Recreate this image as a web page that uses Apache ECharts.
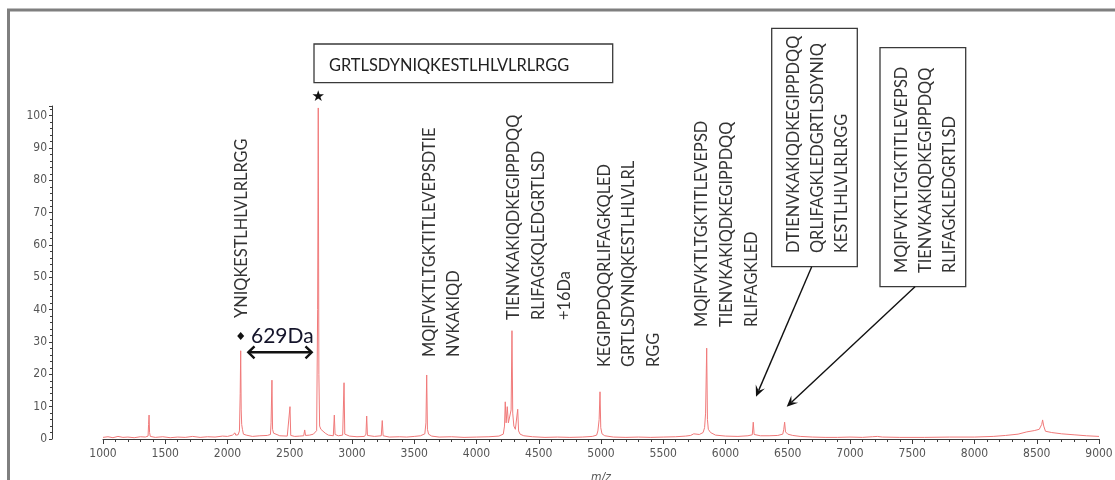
<!DOCTYPE html>
<html>
<head>
<meta charset="utf-8">
<title>MALDI-TOF spectrum</title>
<script src="https://cdn.jsdelivr.net/npm/echarts/dist/echarts.min.js"></script>
<style>
  html, body { margin: 0; padding: 0; background: #ffffff; }
  #chart { width: 1115px; height: 480px; }
</style>
</head>
<body>
<div id="chart"></div>
<script>
// ---- Spectrum: [m/z, relative intensity %] ----
const spectrum = [
  [1000,0.5],[1040,0.7],[1080,0.4],[1120,0.8],[1160,0.5],[1200,0.6],[1250,0.4],[1300,0.7],
  [1340,0.6],[1362,0.9],[1366,4.5],[1370,7.4],[1374,2.0],[1380,0.8],[1420,0.5],[1480,0.7],
  [1540,0.4],[1600,0.6],[1660,0.5],[1720,0.8],[1780,0.5],[1840,0.7],[1900,0.6],[1960,0.9],
  [2000,0.8],[2040,1.2],[2055,1.5],[2060,1.9],[2066,1.2],[2085,1.3],[2096,2.5],[2102,14],
  [2106,27.3],[2110,9],[2114,4.5],[2120,3.0],[2128,1.5],[2140,2.1],[2150,1.2],[2200,0.8],
  [2260,1.0],[2320,1.1],[2345,1.4],[2350,5],[2357,18.2],[2362,3.0],[2370,1.8],[2385,1.4],
  [2420,1.0],[2480,0.9],[2495,1.0],[2502,10.0],[2508,1.1],[2540,0.8],[2580,0.9],[2612,1.0],
  [2620,2.8],[2627,1.1],[2660,1.2],[2690,1.5],[2705,2.0],[2716,2.6],[2724,40],[2729,102.4],
  [2734,20],[2740,4.0],[2750,3.0],[2765,2.4],[2785,1.8],[2810,1.2],[2850,1.0],[2858,7.4],
  [2864,1.4],[2890,1.0],[2925,1.2],[2936,17.4],[2942,1.5],[2980,0.9],[3040,0.7],[3100,0.8],
  [3112,1.5],[3118,7.1],[3124,1.1],[3180,0.8],[3235,1.0],[3243,5.7],[3250,1.0],[3300,0.6],
  [3380,0.7],[3440,0.6],[3500,0.8],[3550,1.0],[3585,1.6],[3594,5],[3600,19.8],[3606,3.0],
  [3615,1.5],[3640,0.9],[3700,0.6],[3800,0.7],[3900,0.5],[4000,0.6],[4100,0.7],[4180,0.9],
  [4215,1.5],[4225,4],[4231,11.5],[4238,5],[4247,10.0],[4256,5.0],[4268,4.5],[4278,9],
  [4285,33.5],[4291,8],[4300,4],[4312,3],[4331,9.2],[4338,2.5],[4350,1.5],[4380,1.0],
  [4450,0.7],[4550,0.5],[4650,0.6],[4750,0.5],[4850,0.6],[4930,0.8],[4965,1.2],[4975,2.5],
  [4985,6],[4992,14.6],[4998,3.5],[5008,1.6],[5030,1.0],[5100,0.6],[5200,0.5],[5300,0.6],
  [5400,0.5],[5500,0.6],[5600,0.7],[5680,0.9],[5720,1.1],[5745,1.6],[5755,1.2],[5790,1.4],
  [5820,2.0],[5832,3.5],[5840,8],[5849,28.1],[5855,6],[5862,3.0],[5880,2.0],[5920,1.2],
  [6000,0.9],[6100,0.8],[6180,1.0],[6215,1.3],[6223,5.2],[6230,1.4],[6280,1.0],[6350,1.0],
  [6420,1.1],[6460,1.5],[6468,3],[6475,5.2],[6482,2.2],[6500,1.5],[6540,1.1],[6600,0.8],
  [6700,0.6],[6800,0.5],[6900,0.5],[7000,0.6],[7100,0.5],[7180,0.7],[7220,0.8],[7260,0.6],
  [7400,0.5],[7600,0.5],[7800,0.6],[8000,0.6],[8150,0.8],[8250,1.1],[8350,1.5],[8420,2.2],
  [8480,2.6],[8520,3.0],[8540,4.5],[8547,5.9],[8556,4.0],[8570,2.4],[8620,2.0],[8700,1.6],
  [8800,1.3],[8900,1.0],[9000,0.8]
];

// ---- Axis ranges ----
const mzRange = [1000, 9000];
const mzTickStep = 500;
const intensityRange = [0, 103];
const intensityTickStep = 10;

// ---- Peptide assignments ----
const mainPeptide = 'GRTLSDYNIQKESTLHLVLRLRGG';
const massShiftLabel = '629Da';
const label2106 = ['YNIQKESTLHLVLRLRGG'];
const label3600 = ['MQIFVKTLTGKTITLEVEPSDTIE', 'NVKAKIQD'];
const label4285 = ['TIENVKAKIQDKEGIPPDQQ', 'RLIFAGKQLEDGRTLSD', '+16Da'];
const label4992 = ['KEGIPPDQQRLIFAGKQLED', 'GRTLSDYNIQKESTLHLVLRL', 'RGG'];
const label5849 = ['MQIFVKTLTGKTITLEVEPSD', 'TIENVKAKIQDKEGIPPDQQ', 'RLIFAGKLED'];
const label6223 = ['DTIENVKAKIQDKEGIPPDQQ', 'QRLIFAGKLEDGRTLSDYNIQ', 'KESTLHLVLRLRGG'];
const label6475 = ['MQIFVKTLTGKTITLEVEPSD', 'TIENVKAKIQDKEGIPPDQQ', 'RLIFAGKLEDGRTLSD'];

// ---- Layout of the annotation layer (pixels) ----
const TEXT_FONT = 'Lato, "Open Sans", sans-serif';
const TEXT_SIZE = 16.4;
const AXIS_FONT = '"Liberation Sans Narrow", "DejaVu Sans Condensed", sans-serif';
const verticalGroups = [
  { lines: label2106, x: 241.7, dx: 0,    base: 318 },
  { lines: label3600, x: 430,   dx: 23.3, base: 357 },
  { lines: label4285, x: 513.3, dx: 25.8, base: 320 },
  { lines: label4992, x: 605,   dx: 24.2, base: 367 },
  { lines: label5849, x: 701.7, dx: 25,   base: 327 },
  { lines: label6223, x: 793.3, dx: 24.2, base: 253 },
  { lines: label6475, x: 901.7, dx: 24.2, base: 273 }
];
const boxes = [
  { x: 314,   y: 44,   w: 298.7, h: 38.7 },
  { x: 771.7, y: 28.3, w: 85.6,  h: 238.4 },
  { x: 880,   y: 47.7, w: 85.7,  h: 239 }
];
const pointerArrows = [
  { from: [811.7, 266.7], to: [756, 396.7] },
  { from: [915, 286.7],   to: [786.7, 406.7] }
];

function arrowHead(from, to, len, half) {
  const dx = to[0] - from[0], dy = to[1] - from[1];
  const d = Math.sqrt(dx * dx + dy * dy);
  const ux = dx / d, uy = dy / d;
  const bx = to[0] - ux * len, by = to[1] - uy * len;
  return [[to[0], to[1]], [bx - uy * half, by + ux * half], [to[0] - ux * len * 0.6, to[1] - uy * len * 0.6], [bx + uy * half, by - ux * half]];
}

const graphics = [];

// outer frame
graphics.push({
  type: 'rect', z: 100, silent: true,
  shape: { x: 8.5, y: 10, width: 1300, height: 700 },
  style: { fill: 'none', stroke: '#7f7f7f', lineWidth: 3 }
});

// vertical peptide labels
verticalGroups.forEach(g => {
  g.lines.forEach((t, i) => {
    graphics.push({
      type: 'text', z: 50, silent: true,
      x: g.x + i * g.dx, y: g.base, rotation: Math.PI / 2,
      style: { text: t, fontSize: TEXT_SIZE, fontFamily: TEXT_FONT, fill: '#333333', align: 'left', verticalAlign: 'middle' }
    });
  });
});

// framed labels
boxes.forEach(b => {
  graphics.push({
    type: 'rect', z: 50, silent: true,
    shape: { x: b.x, y: b.y, width: b.w, height: b.h },
    style: { fill: 'none', stroke: '#3a3a3a', lineWidth: 1.3 }
  });
});
graphics.push({
  type: 'text', z: 50, silent: true, x: 329, y: 66,
  style: { text: mainPeptide, fontSize: TEXT_SIZE, fontFamily: TEXT_FONT, fill: '#222222', align: 'left', verticalAlign: 'middle' }
});

// arrows from the framed labels down to their peaks
pointerArrows.forEach(a => {
  const head = arrowHead(a.from, a.to, 11, 5);
  graphics.push({
    type: 'line', z: 50, silent: true,
    shape: { x1: a.from[0], y1: a.from[1], x2: head[2][0], y2: head[2][1] },
    style: { stroke: '#111111', lineWidth: 1.4 }
  });
  graphics.push({
    type: 'polygon', z: 50, silent: true,
    shape: { points: head },
    style: { fill: '#111111' }
  });
});

// base peak star
graphics.push({
  type: 'text', z: 50, silent: true, x: 318.3, y: 97,
  style: { text: '\u2605', fontSize: 15, fontFamily: '"DejaVu Sans", sans-serif', fill: '#111111', align: 'center', verticalAlign: 'middle' }
});

// mass shift marker: diamond, label and double-headed arrow
graphics.push({
  type: 'polygon', z: 50, silent: true,
  shape: { points: [[240.7, 332], [244.2, 336], [240.7, 340], [237.2, 336]] },
  style: { fill: '#111111' }
});
graphics.push({
  type: 'text', z: 50, silent: true, x: 251, y: 336,
  style: { text: massShiftLabel, fontSize: 21, fontFamily: TEXT_FONT, fill: '#14142a', align: 'left', verticalAlign: 'middle' }
});
graphics.push({
  type: 'line', z: 50, silent: true,
  shape: { x1: 249, y1: 352.3, x2: 310.5, y2: 352.3 },
  style: { stroke: '#111111', lineWidth: 2.4 }
});
graphics.push({
  type: 'polyline', z: 50, silent: true,
  shape: { points: [[254.5, 346.3], [248.3, 352.3], [254.5, 358.3]] },
  style: { stroke: '#111111', lineWidth: 2.4, fill: 'none' }
});
graphics.push({
  type: 'polyline', z: 50, silent: true,
  shape: { points: [[305.5, 346.3], [311.7, 352.3], [305.5, 358.3]] },
  style: { stroke: '#111111', lineWidth: 2.4, fill: 'none' }
});

const chart = echarts.init(document.getElementById('chart'), null, { renderer: 'canvas' });

const axisColor = '#3c3c3c';
chart.setOption({
  animation: false,
  backgroundColor: '#ffffff',
  grid: [
    { left: 52, top: 106, bottom: 41, width: 20, outerBoundsMode: 'none', containLabel: false },
    { left: 103, right: 16, top: 106, bottom: 41, outerBoundsMode: 'none', containLabel: false }
  ],
  xAxis: [
    { gridIndex: 0, type: 'value', show: false, min: 0, max: 1 },
    {
      gridIndex: 1, type: 'value', min: mzRange[0], max: mzRange[1], interval: mzTickStep,
      offset: 2,
      name: 'm/z', nameLocation: 'middle', nameGap: 31,
      nameTextStyle: { fontStyle: 'italic', fontSize: 12, color: '#555555', fontFamily: AXIS_FONT },
      axisLine: { lineStyle: { color: axisColor, width: 1 } },
      axisTick: { show: true, length: 5, lineStyle: { color: axisColor } },
      minorTick: { show: true, splitNumber: 5, length: 3, lineStyle: { color: axisColor } },
      axisLabel: { fontSize: 12, color: '#555555', fontFamily: AXIS_FONT, margin: 7, formatter: v => String(v) },
      splitLine: { show: false }
    }
  ],
  yAxis: [
    {
      gridIndex: 0, type: 'value', min: intensityRange[0], max: intensityRange[1],
      interval: intensityTickStep, position: 'left',
      axisLine: { show: true, lineStyle: { color: axisColor, width: 1 } },
      axisTick: { show: true, length: 3, lineStyle: { color: axisColor } },
      minorTick: { show: true, splitNumber: 5, length: 2, lineStyle: { color: axisColor } },
      axisLabel: {
        fontSize: 12, color: '#555555', fontFamily: AXIS_FONT, margin: 5,
        formatter: v => (v % intensityTickStep === 0 && v <= 100 ? String(v) : '')
      },
      splitLine: { show: false }
    },
    { gridIndex: 1, type: 'value', min: intensityRange[0], max: intensityRange[1], show: false }
  ],
  series: [{
    type: 'line',
    xAxisIndex: 1, yAxisIndex: 1,
    data: spectrum,
    showSymbol: false,
    symbol: 'none',
    sampling: false,
    lineStyle: { color: '#f07a7a', width: 1 },
    emphasis: { disabled: true },
    z: 3
  }],
  graphic: graphics
});
</script>
</body>
</html>
